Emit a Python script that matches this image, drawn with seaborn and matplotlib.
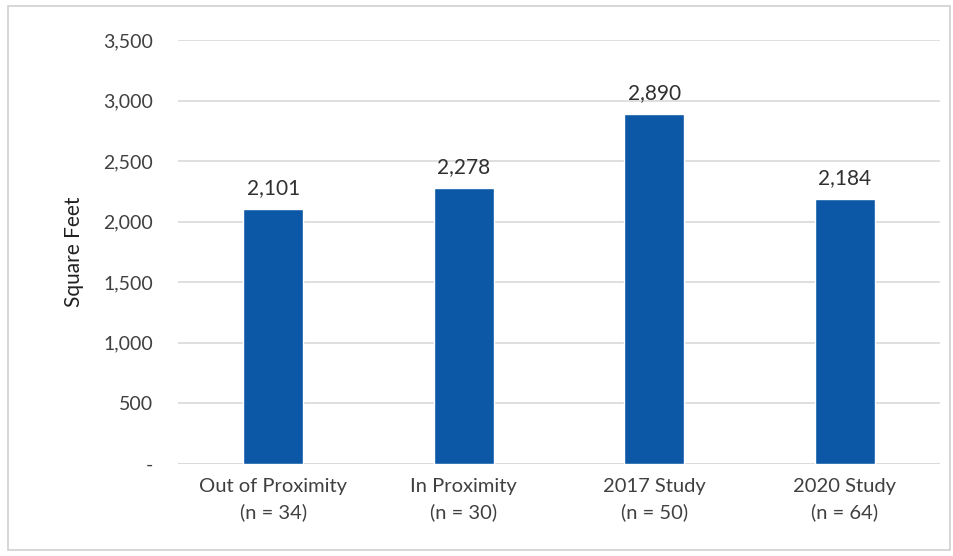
import matplotlib
matplotlib.use("Agg")
import matplotlib.pyplot as plt
import matplotlib.patches as mpatches
import seaborn as sns
import pandas as pd

categories = ["Out of Proximity\n(n = 34)", "In Proximity\n(n = 30)",
              "2017 Study\n(n = 50)", "2020 Study\n(n = 64)"]
values = [2101, 2278, 2890, 2184]
y_ticks = [0, 500, 1000, 1500, 2000, 2500, 3000, 3500]
y_tick_labels = ["-", "500", "1,000", "1,500", "2,000", "2,500", "3,000", "3,500"]

sns.set_theme(style="white")
plt.rcParams["font.family"] = ["Lato", "DejaVu Sans"]

df = pd.DataFrame({"category": categories, "value": values})

fig = plt.figure(figsize=(9.54, 5.56), dpi=100)
ax = fig.add_axes([0.1866, 0.1655, 0.7987, 0.7626])

sns.barplot(data=df, x="category", y="value", color="#0C58A6",
            width=0.315, saturation=1, ax=ax, zorder=3)

ax.set_xlim(-0.5, 3.5)
ax.set_ylim(0, 3500)
ax.set_yticks(y_ticks)
ax.set_yticklabels(y_tick_labels, fontsize=14, color="#404040")
ax.tick_params(axis="x", labelsize=14.5, labelcolor="#404040", pad=10, length=0)
ax.tick_params(axis="y", length=0, pad=18)
for lbl in ax.get_xticklabels():
    lbl.set_linespacing(1.55)
ax.yaxis.grid(True, color="#D9D9D9", linewidth=1.2, zorder=0)
for s in ax.spines.values():
    s.set_visible(False)
ax.axhline(0, color="#D9D9D9", linewidth=1.2, zorder=1)

ax.set_xlabel("")
ax.set_ylabel("Square Feet", fontsize=15, color="#202020", labelpad=14)

for container in ax.containers:
    ax.bar_label(container, labels=[f"{v:,}" for v in values],
                 padding=8, fontsize=15, color="#303030")

fig.patches.append(mpatches.Rectangle((8 / 954, 6 / 556), 942 / 954, 544 / 556,
                                      transform=fig.transFigure, fill=False,
                                      edgecolor="#D0D0D0", linewidth=1.2))

fig.savefig("out.png", dpi=100)
